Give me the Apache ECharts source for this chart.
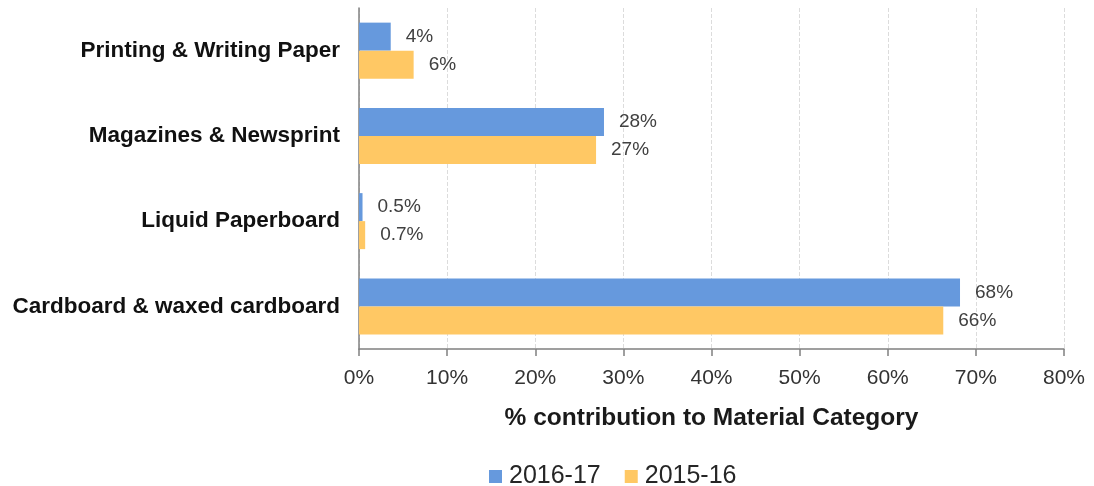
<!DOCTYPE html>
<html>
<head>
<meta charset="utf-8">
<script src="https://cdn.jsdelivr.net/npm/echarts@6/dist/echarts.min.js"></script>
<style>
  html, body { margin: 0; padding: 0; background: #fff; }
  #chart { width: 1094px; height: 486px; }
</style>
</head>
<body>
<div id="chart"></div>
<script>
const categories = ['Printing & Writing Paper', 'Magazines & Newsprint', 'Liquid Paperboard', 'Cardboard & waxed cardboard'];
const seriesNames = ['2016-17', '2015-16'];
const values2016 = [3.6, 27.8, 0.4, 68.2];
const values2015 = [6.2, 26.9, 0.7, 66.3];
const labels2016 = ['4%', '28%', '0.5%', '68%'];
const labels2015 = ['6%', '27%', '0.7%', '66%'];
const xTicks = [0, 10, 20, 30, 40, 50, 60, 70, 80];

const chart = echarts.init(document.getElementById('chart'));

const labelStyle = (texts) => ({
  show: true,
  position: 'right',
  distance: 15,
  color: '#404040',
  fontSize: 19,
  fontFamily: 'Liberation Sans, Arial',
  formatter: (p) => texts[p.dataIndex],
});

chart.setOption({
  animation: false,
  textStyle: { fontFamily: 'Liberation Sans, Arial' },
  grid: { left: 359, right: 30, top: 8, bottom: 137 },
  legend: {
    data: seriesNames,
    left: 484,
    top: 459,
    icon: 'rect',
    itemWidth: 13,
    itemHeight: 13,
    itemGap: 24,
    textStyle: { fontSize: 25, color: '#262626', padding: [0, 0, 0, 2] },
  },
  xAxis: {
    type: 'value',
    min: xTicks[0],
    max: xTicks[xTicks.length - 1],
    interval: 10,
    name: '% contribution to Material Category',
    nameLocation: 'middle',
    nameGap: 57,
    nameTextStyle: { fontSize: 24.5, fontWeight: 'bold', color: '#1a1a1a' },
    axisLine: { show: true, lineStyle: { color: '#808080', width: 1.5 } },
    axisTick: { show: true, length: 7, lineStyle: { color: '#808080', width: 1.5 } },
    axisLabel: { fontSize: 21, color: '#333', margin: 19, formatter: '{value}%' },
    splitLine: { show: true, lineStyle: { color: '#dcdcdc', type: 'dashed' } },
  },
  yAxis: {
    type: 'category',
    data: categories,
    inverse: true,
    axisLine: { show: true, lineStyle: { color: '#808080', width: 1.5 } },
    axisTick: { show: false },
    axisLabel: { fontSize: 22.5, fontWeight: 'bold', color: '#111', margin: 19 },
  },
  series: [
    {
      name: seriesNames[0],
      type: 'bar',
      data: values2016,
      barWidth: 28,
      barGap: '0%',
      itemStyle: { color: '#6699DD' },
      label: labelStyle(labels2016),
    },
    {
      name: seriesNames[1],
      type: 'bar',
      data: values2015,
      barWidth: 28,
      barGap: '0%',
      itemStyle: { color: '#FFC864' },
      label: labelStyle(labels2015),
    },
  ],
});
</script>
</body>
</html>
